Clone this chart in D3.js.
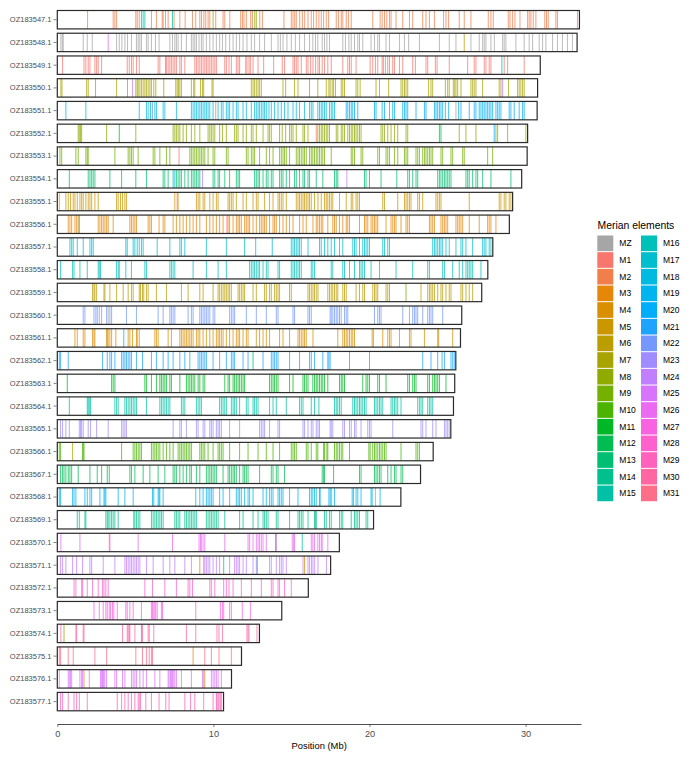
<!DOCTYPE html>
<html>
<head>
<meta charset="utf-8">
<script src="https://cdn.jsdelivr.net/npm/d3@7"></script>
<style>
  html, body { margin: 0; padding: 0; background: #fff; }
  svg { display: block; font-family: "Liberation Sans", Arial, Helvetica, sans-serif; }
</style>
</head>
<body>
<svg id="chart" width="689" height="760"></svg>
<script>
// ---------------- DATA ----------------
const chromosomes = ["OZ183547.1","OZ183548.1","OZ183549.1","OZ183550.1","OZ183551.1","OZ183552.1","OZ183553.1","OZ183554.1","OZ183555.1","OZ183556.1","OZ183557.1","OZ183558.1","OZ183559.1","OZ183560.1","OZ183561.1","OZ183562.1","OZ183563.1","OZ183564.1","OZ183565.1","OZ183566.1","OZ183567.1","OZ183568.1","OZ183569.1","OZ183570.1","OZ183571.1","OZ183572.1","OZ183573.1","OZ183574.1","OZ183575.1","OZ183576.1","OZ183577.1"];

const chromLengths = [33.45,33.3,30.94,30.77,30.74,30.13,30.1,29.75,29.17,28.96,27.9,27.58,27.19,25.91,25.83,25.53,25.46,25.38,25.21,24.08,23.27,22.01,20.26,18.07,17.51,16.08,14.38,12.95,11.8,11.16,10.65];

const chromElement = ["M2","MZ","M1","M7","M18","M8","M9","M13","M5","M3","M17","M16","M6","M22","M4","M21","M11","M15","M23","M10","M12","M19","M14","M26","M24","M28","M27","M30","M31","M25","M29"];

const elements = ["MZ","M1","M2","M3","M4","M5","M6","M7","M8","M9","M10","M11","M12","M13","M14","M15","M16","M17","M18","M19","M20","M21","M22","M23","M24","M25","M26","M27","M28","M29","M30","M31"];

const xTicks = [0, 10, 20, 30];

// gene positions (Mb) of the chromosome's main Merian element
const positions = [
[1.94,3.58,3.69,3.8,5.03,5.12,5.25,6.03,6.35,6.72,6.78,6.93,7.1,7.48,7.85,8.19,8.66,8.87,9.13,9.24,9.39,9.51,9.66,9.77,10.15,10.62,10.73,11.05,11.75,11.86,11.96,12.11,12.39,12.5,12.97,13.14,14.52,14.99,15.1,15.21,15.31,15.53,15.7,15.85,16.06,16.27,16.42,16.59,16.76,16.91,17.06,17.23,17.38,17.87,18.01,18.19,18.29,18.51,18.65,18.83,20.21,20.68,20.81,20.96,21.11,21.28,21.38,21.7,22.13,22.56,22.77,23.41,23.62,23.84,24.16,24.75,24.9,25.07,25.75,26.07,26.5,27.61,27.78,27.93,28.89,29.0,29.17,29.32,29.64,30.13,30.23,30.34,30.49,30.66,31.23,31.34,31.45,31.94,32.04,33.32],
[0.23,0.32,0.38,1.66,1.92,2.24,3.8,3.97,4.14,4.33,4.5,4.75,5.07,5.18,5.29,5.39,5.71,5.82,6.03,6.29,6.52,7.21,7.38,7.53,7.63,7.74,7.95,8.27,8.59,8.7,8.81,8.91,9.08,9.23,9.34,9.55,9.77,9.98,10.19,10.4,10.58,10.79,11.04,11.26,11.47,11.68,11.9,12.15,12.43,12.64,12.96,13.28,13.71,14.14,14.29,14.46,14.71,14.99,15.25,15.52,15.84,16.16,16.37,16.54,16.69,16.97,17.12,17.27,17.44,18.29,18.46,18.68,18.83,19.04,19.25,19.36,19.57,20.1,20.32,20.53,20.64,21.06,21.28,21.92,22.24,22.51,23.2,24.48,25.11,25.54,26.5,27.03,27.25,27.35,27.46,27.78,28.0,28.53,28.63,28.74,29.38,29.91,30.23,30.45,30.87,31.09,31.3,31.73,32.04,32.36,32.68,33.0],
[0.34,1.71,1.83,1.98,2.09,2.41,2.52,2.62,2.84,4.48,4.61,4.75,4.86,5.07,5.25,6.46,6.57,6.93,6.99,7.1,7.21,7.31,7.42,7.53,7.63,7.85,7.95,8.17,8.81,8.91,9.02,9.13,9.23,9.34,9.45,9.55,9.66,9.77,9.87,9.98,10.09,10.19,10.73,10.83,11.0,11.15,11.47,11.58,11.68,12.07,12.15,12.28,12.37,12.54,12.86,13.22,13.86,14.41,14.56,15.1,15.2,15.31,15.42,15.63,15.95,16.06,16.23,16.38,16.55,16.7,16.8,16.97,17.12,17.33,17.55,18.29,18.61,18.72,18.83,19.14,20.04,20.21,20.38,20.53,20.81,20.89,21.02,21.17,21.28,21.49,21.6,21.92,22.13,22.77,22.94,23.62,23.73,24.22,24.33,25.11,26.29,26.71,26.82,27.35,27.46,27.67,27.78,28.63,28.85,29.91],
[0.23,0.3,1.88,1.98,2.45,3.8,4.5,5.03,5.12,5.18,5.29,5.39,5.5,5.61,5.71,5.82,5.93,6.03,6.18,6.31,6.82,7.59,7.68,7.76,7.85,7.95,8.59,8.74,8.81,9.17,9.3,9.38,9.91,9.98,12.43,12.54,12.64,12.75,12.86,12.96,13.07,14.46,14.63,15.2,15.42,16.16,16.69,17.23,17.4,17.48,17.61,17.7,17.82,18.19,18.29,18.4,19.14,19.25,19.4,20.42,20.64,21.23,22.02,22.13,22.24,22.34,22.45,23.79,23.94,24.05,24.86,25.01,25.11,25.37,25.46,25.54,25.65,25.86,26.5,26.61,26.71,26.82,27.25,28.31,28.42,28.91,29.49,29.59,29.7,29.81,29.91],
[0.55,1.83,5.25,5.71,5.82,5.97,6.25,6.35,6.78,6.89,7.63,8.59,8.7,8.81,8.91,9.02,9.13,9.23,9.34,9.45,9.55,9.66,9.77,9.98,10.3,10.51,10.62,10.83,10.94,11.04,11.26,11.47,11.58,11.9,12.11,12.43,12.64,12.75,12.86,12.96,13.07,13.18,13.28,13.39,13.56,13.71,13.92,14.14,14.35,14.56,14.78,15.1,15.31,15.52,15.84,16.16,16.38,16.69,16.8,16.91,17.01,17.12,17.23,17.44,17.55,17.65,17.76],
[1.34,1.41,1.49,1.56,3.16,5.03,7.42,7.53,7.63,7.74,7.85,8.06,8.27,8.59,8.81,9.13,9.66,9.77,9.87,9.98,10.09,10.4,10.58,10.83,11.36,11.47,11.58,11.9,12.11,12.43,12.54,12.75,13.18,13.5,13.6,13.71,14.24,14.41,14.63,14.88,14.99,15.1,15.31,15.74,15.84,16.06,16.69,16.8,16.91,17.01,17.12,17.23,17.33,17.44,17.87,17.97,18.19,18.29,18.4,18.61,18.72,18.83,18.93,19.04,19.14,19.25,19.36,19.46,20.74,20.85,20.96,21.17,21.38,21.6,21.81,22.34,22.45,25.75,26.18,26.82,28.1,28.21,28.85,30.02],
[0.17,0.28,1.19,1.34,1.83,1.92,1.98,3.69,4.54,4.65,4.75,4.86,5.18,6.14,6.25,6.57,6.99,7.21,8.49,8.59,8.7,8.81,8.91,9.02,9.13,9.23,9.34,9.45,9.66,9.98,10.09,10.83,10.94,12.11,12.22,12.43,12.54,12.64,12.96,13.39,13.6,13.82,14.24,14.35,14.46,14.56,14.67,14.88,15.31,15.42,15.52,15.63,15.74,15.84,15.95,16.16,16.27,16.37,16.48,16.59,16.69,16.8,16.91,17.01,17.12,17.55,18.83,18.93,19.04,19.46,19.57,20.53,20.64,21.06,21.17,21.28,21.6,21.81,22.24,22.34,22.45,22.98,23.09,23.2,23.41,23.52,23.62,23.73,23.84,23.94,24.05,24.58,24.69,25.22,25.33,25.97,26.07,27.57,27.89],
[0.77,1.98,2.09,2.2,2.3,2.41,3.37,4.12,5.03,5.71,6.78,6.89,7.1,7.42,7.63,7.74,7.85,7.95,8.17,8.38,8.59,8.7,8.81,8.91,9.02,9.13,9.98,10.09,10.3,10.4,10.73,11.04,11.47,11.58,11.68,12.64,12.75,12.86,12.96,13.18,13.39,13.5,13.71,13.82,14.24,14.35,14.46,14.67,14.88,15.2,15.31,15.52,15.74,15.84,16.06,16.16,16.59,17.01,17.76,17.87,17.97,19.68,19.78,20.0,20.74,21.75,22.45,22.56,22.77,22.98,23.09,24.37,24.48,24.58,24.69,24.8,24.9,25.01,25.11,25.22,26.18,26.29,26.39,26.61,26.82,26.93,27.25,27.78,29.06],
[0.13,0.55,0.7,0.85,1.02,1.13,1.28,1.45,1.56,1.66,1.83,1.98,2.09,2.2,2.41,2.62,3.8,3.9,4.05,4.18,4.33,4.43,7.53,7.74,8.91,9.02,9.13,9.34,9.45,9.77,9.98,10.19,10.3,10.94,11.04,11.15,11.26,11.47,11.9,12.11,12.54,12.75,12.86,13.28,13.6,13.82,14.14,14.24,14.35,14.46,14.67,15.31,15.42,15.52,15.63,15.74,15.84,15.95,16.06,16.16,16.27,16.48,16.7,16.91,17.12,17.23,17.33,17.44,17.55,17.65,18.08,18.51,18.83,18.93,19.14,19.25,19.36,20.85,20.96,21.81,22.24,22.34,22.45,22.56,22.66,23.09,23.2,23.41,24.26,24.37,24.48,24.58,26.39,28.31,28.42,28.63,28.74,28.95,29.06],
[0.7,0.81,0.92,1.13,1.24,1.34,2.62,2.73,2.84,2.94,3.05,3.16,3.26,3.58,4.65,4.75,4.86,4.97,5.07,5.82,5.93,6.03,6.52,6.78,6.89,7.42,7.63,7.85,8.06,8.27,8.49,8.7,8.91,9.13,9.55,9.77,9.98,10.19,10.4,10.62,10.94,11.04,11.26,11.47,11.58,11.68,11.79,12.0,12.11,12.22,12.32,12.54,12.75,12.96,13.07,13.18,13.28,13.39,13.6,13.82,13.92,14.03,14.24,14.46,14.67,14.88,15.1,15.52,15.74,15.95,16.38,16.59,16.69,16.8,16.91,17.01,17.33,17.65,17.76,17.87,18.08,18.29,18.51,18.61,18.72,19.36,19.68,19.78,19.89,20.1,20.21,20.32,20.42,20.53,21.06,21.38,21.49,21.6,21.7,22.02,22.34,22.45,22.56,23.84,23.94,24.05,24.16,24.58,24.69,24.8,24.9,25.01,25.54,25.65,25.75,25.86,25.97,26.39,27.03,27.57,27.67,27.78,28.1],
[0.81,0.92,1.02,1.28,1.66,2.09,2.2,2.3,4.39,4.48,4.86,4.97,5.12,5.25,5.39,5.5,6.4,7.21,7.85,7.95,8.17,9.55,10.83,12.0,12.71,13.77,14.99,15.1,15.2,15.31,15.42,15.52,15.63,16.06,16.8,16.91,17.12,17.33,17.55,17.76,18.08,18.29,18.93,19.04,19.14,19.36,19.57,19.68,19.78,19.89,20.0,20.85,20.96,21.17,21.28,24.05,24.16,24.26,24.37,24.48,24.58,24.69,24.9,25.11,25.54,25.86,25.97,26.18,26.61,27.25,27.35,27.46,27.67,27.78],
[0.21,0.98,1.07,1.45,1.92,2.62,2.69,2.77,3.8,3.9,3.97,4.39,4.75,5.61,5.71,7.21,7.31,7.42,7.53,8.7,9.55,10.3,10.83,12.32,12.43,12.54,12.64,12.75,12.86,12.96,13.18,13.39,13.5,14.14,14.24,14.99,15.1,15.2,15.31,15.42,15.52,15.63,16.27,16.37,16.48,17.55,17.65,18.29,18.4,18.72,19.04,19.36,19.46,19.57,19.68,20.1,20.64,21.7,22.77,23.73,23.84,24.69,24.8,25.33,25.75,25.97,26.18,26.29,26.39,26.5,26.61,27.14],
[2.26,2.35,2.41,2.52,2.99,3.05,3.37,3.8,4.22,4.54,4.75,4.86,5.25,5.33,5.46,5.54,5.71,5.82,6.35,6.99,7.95,8.38,9.13,9.34,9.98,10.3,10.4,10.51,10.62,10.73,10.83,10.94,11.04,11.15,11.58,11.68,11.79,11.9,12.0,12.54,12.75,13.28,13.39,13.6,13.71,13.92,14.03,14.14,14.24,14.88,14.99,16.06,16.16,16.27,16.38,16.48,16.59,16.7,17.33,17.44,17.55,17.65,17.76,17.87,17.97,18.29,18.4,18.51,19.14,19.36,19.57,19.68,20.21,20.32,20.42,20.53,21.06,21.17,21.28,23.3,23.73,23.84,23.94,24.05,24.16,24.37,24.58,24.69,24.9,25.11,25.22,25.86,25.97,26.18,26.39,26.61],
[1.66,1.77,2.35,2.47,2.56,2.69,2.84,3.16,3.37,3.48,4.43,5.07,6.46,6.78,7.21,7.31,7.42,7.53,8.38,8.59,8.7,9.13,9.23,9.34,9.45,9.55,9.66,9.77,9.98,10.09,11.04,11.15,11.26,11.36,12.11,12.75,13.39,14.03,14.14,15.1,15.2,16.06,16.16,16.27,17.48,17.55,17.65,17.76,17.87,17.97,18.19,18.4,18.51,18.61,20.32,20.53,20.64,20.74,22.13,22.56,22.77,22.88,22.98,23.09,23.41,23.73,23.84,23.94,24.05,24.69],
[1.13,1.28,1.66,1.77,2.26,2.35,2.41,3.16,3.2,3.26,3.37,3.48,3.75,4.54,4.65,4.82,5.07,5.12,5.25,6.25,6.35,6.46,7.1,7.31,7.85,7.95,8.06,8.17,8.27,8.38,8.49,8.59,8.7,8.91,9.02,9.13,9.34,9.55,9.77,9.98,10.19,10.3,10.4,10.51,10.62,10.83,11.04,11.26,11.47,11.58,11.68,11.9,12.11,12.22,12.75,12.96,13.18,13.39,13.6,14.24,14.46,14.88,15.42,15.52,15.63,15.74,15.84,15.95,16.38,17.97,18.29,18.4,18.51,18.61,18.72,18.83,18.93,19.04,20.17,20.25,20.85,21.17,21.28,21.38,21.92,22.56,22.66,23.52,24.37,24.43,25.33],
[0.13,0.21,0.7,2.9,3.2,3.37,3.48,3.69,4.12,4.22,4.33,4.43,4.54,4.65,4.75,5.07,5.46,6.03,6.35,6.78,7.1,7.42,7.85,8.17,8.49,9.02,9.13,9.23,9.34,9.45,9.55,9.98,10.4,10.83,11.15,11.26,11.36,11.9,12.22,13.18,13.71,13.82,13.92,14.03,14.14,14.88,15.52,16.16,16.27,16.48,17.01,17.33,17.4,17.48,18.72,20.0,23.41,23.94,24.37,24.65,24.8,25.22,25.33,25.43],
[0.64,3.48,3.58,3.69,5.61,5.71,6.03,6.35,6.57,6.67,6.78,6.89,6.99,7.21,7.31,7.85,8.27,8.38,8.49,8.59,8.7,8.81,9.02,9.13,9.34,9.45,10.73,10.94,11.04,11.26,11.36,11.47,11.58,11.68,11.79,11.9,12.0,13.6,13.71,13.82,13.92,14.03,14.14,14.88,15.1,15.74,15.84,15.95,16.06,16.37,16.48,16.59,16.69,16.8,16.91,17.01,17.12,17.33,18.08,18.19,18.29,18.4,19.57,19.78,19.89,20.0,20.53,20.64,21.06,22.45,22.56,22.77,22.88,22.98,23.73,23.84,24.05,24.16,24.26,24.37,24.48,24.9],
[0.77,1.92,1.98,2.05,2.13,3.69,3.8,3.9,4.33,4.43,4.54,4.65,4.75,4.86,4.97,5.07,5.71,6.57,6.67,6.78,6.89,6.99,7.1,7.21,7.95,8.06,8.17,8.91,9.02,9.13,9.23,10.4,10.51,10.62,10.73,10.83,11.15,11.26,11.36,11.47,11.68,12.11,12.22,12.54,12.64,12.75,12.86,13.6,13.82,14.03,14.67,15.52,15.63,15.74,16.27,16.48,16.76,17.76,17.87,17.97,18.08,18.19,18.93,19.04,19.14,19.25,19.36,19.46,19.57,19.68,19.78,20.32,20.42,20.53,20.64,20.74,20.85,21.38,21.49,21.6,21.7,21.81,22.02,23.09,23.3,23.41,23.73,23.84,23.94,24.05],
[0.21,0.34,0.55,0.77,1.41,1.49,1.56,1.66,1.98,2.13,2.52,3.26,4.12,4.22,4.33,4.43,7.42,7.85,7.95,8.27,8.91,9.02,9.34,9.45,9.77,9.87,9.98,10.19,10.3,10.4,10.51,11.04,11.68,12.96,13.07,13.18,13.28,13.6,14.14,14.24,15.74,15.84,16.06,16.27,16.38,16.59,16.7,16.8,17.48,17.55,17.65,18.29,18.4,18.72,18.83,19.04,19.14,19.46,19.89,20.0,20.1,21.49,23.3,23.41,23.62,24.05,24.26,24.8,24.9,25.01,25.11],
[0.13,0.21,1.62,1.66,1.71,4.12,4.86,4.97,5.07,5.18,5.29,5.39,6.03,6.14,6.25,6.35,6.46,6.57,6.78,6.99,7.21,7.42,7.74,7.85,7.95,8.06,8.17,8.27,8.38,8.49,8.59,9.13,9.23,9.34,9.45,9.66,9.98,10.3,10.4,10.51,10.62,11.04,11.68,12.22,12.86,13.39,13.82,14.24,14.99,15.1,15.2,15.31,15.95,16.06,16.27,16.59,16.69,17.06,17.12,17.27,17.33,17.76,17.87,17.97,18.08,18.19,18.29,18.72,19.96,20.04,20.21,20.32,20.42,20.53,20.64,20.74,20.85,20.96,21.06,22.02,22.98,23.09,23.2],
[0.21,0.34,0.43,0.55,0.7,0.81,0.92,1.34,2.09,2.56,2.84,3.2,3.33,4.65,4.75,4.97,5.5,5.93,6.46,6.89,7.42,7.53,7.63,7.85,8.06,8.27,8.49,8.59,8.91,9.13,9.55,9.66,9.77,9.87,9.98,10.09,10.19,10.62,10.94,11.04,11.15,11.26,11.36,11.47,11.68,11.9,12.0,12.11,12.22,12.96,13.71,13.82,14.03,14.14,14.56,16.97,17.06,17.12,17.7,19.36,19.46,20.32,20.42,20.53,20.64,20.74,21.17,21.38,21.6,21.7,22.02,22.13],
[0.13,0.21,0.98,1.07,1.19,1.77,1.92,2.09,2.2,2.73,2.99,3.05,3.11,3.9,4.33,4.86,6.1,6.18,6.46,6.52,6.57,6.78,8.87,9.13,9.34,9.55,9.66,9.77,9.87,9.98,10.4,10.62,11.04,11.47,11.58,11.68,11.79,12.0,12.22,12.32,12.54,13.18,13.39,13.6,13.71,13.82,14.14,14.24,14.35,14.46,14.88,15.42,16.16,16.27,16.37,16.48,16.59,16.8,16.84,17.4,17.48,17.55,17.76,18.89,18.97,19.14,19.25,19.46,20.1,20.17,20.68],
[1.28,1.41,1.77,1.83,3.11,3.2,3.26,3.37,3.48,3.58,3.69,3.9,4.9,4.97,5.07,5.18,5.29,6.03,6.14,6.25,6.35,6.46,6.57,6.67,6.78,7.53,7.63,7.74,7.85,8.17,8.27,8.38,8.49,8.59,8.7,8.81,8.91,9.55,9.66,9.77,9.87,9.98,10.09,10.19,10.3,10.73,11.68,11.9,12.54,12.86,13.18,13.28,13.39,13.5,14.03,14.14,14.88,15.42,15.52,15.63,15.74,16.06,16.48,16.55,16.59,17.12,17.23,17.44,17.55,18.08,18.19,18.29,18.83,19.04,19.14,19.25,19.36,19.78,19.89],
[0.23,1.45,3.37,5.18,7.38,9.08,9.17,9.23,9.34,9.45,10.73,12.22,12.32,12.54,12.75,12.86,12.96,13.07,13.18,13.39,14.03,15.05,15.14,15.2,16.27,16.37,16.48,16.69,16.8,16.91,16.97,17.33],
[0.21,0.34,0.55,0.98,1.24,1.62,2.09,2.2,2.94,3.69,4.33,4.43,4.54,4.65,4.75,4.86,4.97,5.07,5.18,5.29,5.71,6.14,6.78,7.21,7.53,8.17,8.59,9.38,9.45,9.55,9.66,9.77,9.98,10.19,10.4,11.04,11.36,11.47,11.58,11.68,11.9,12.11,12.54,12.75,13.6,13.71,14.03,14.24,14.35,14.46,14.67,15.74,16.06,16.16,16.28,16.38,16.49,16.7,17.24],
[1.07,1.19,1.56,1.62,1.92,2.26,2.62,2.9,2.99,3.11,3.26,5.61,6.1,6.89,7.63,8.38,8.49,8.66,9.77,9.87,10.09,10.66,10.83,11.0,11.26,11.79,12.43,13.07,13.71,13.82,14.14,14.24,14.56,14.99],
[2.35,2.69,2.94,3.11,3.2,3.33,3.41,3.54,3.62,3.84,4.39,4.48,4.65,4.86,5.39,6.03,6.1,6.18,6.25,6.31,6.4,6.67,6.74,8.87,10.45,10.58,10.66,11.04,11.15,11.85,12.37],
[0.23,1.19,1.24,1.66,1.71,4.18,4.48,4.54,4.61,4.65,4.97,5.46,5.82,5.89,6.18,8.27,8.87,10.23,10.36,10.58,12.15,12.22,12.28,12.79],
[0.13,0.21,0.7,1.02,2.41,3.16,5.03,5.46,5.71,5.89,6.03,6.1,9.45,9.87,10.36,11.15],
[0.13,0.7,0.77,0.85,0.92,1.45,1.56,1.62,2.05,2.77,2.84,2.9,2.94,2.99,3.05,3.16,3.69,3.8,4.18,4.33,4.75,4.86,4.97,5.07,5.29,5.5,5.71,6.25,6.57,7.1,7.16,7.25,7.31,7.38,7.46,7.53,7.63,7.95,8.59,9.3,9.38,9.87,9.98,10.09,10.19,10.3,10.51],
[0.21,0.34,0.7,1.07,1.24,1.41,1.92,3.84,4.12,4.33,4.54,4.75,4.97,5.18,5.25,5.33,5.67,6.03,6.52,6.95,7.16,8.17,8.53,8.81,9.38,9.98,10.19,10.23,10.3,10.36,10.45,10.51]
];

// second element fused into OZ183551.1
const fusionChrom = "OZ183551.1";
const fusionElement = "M20";
const fusionPositions = [18.51,18.61,18.72,18.83,18.93,19.04,19.25,20.32,20.42,20.81,20.96,21.28,21.49,21.6,22.13,22.24,22.34,22.45,22.98,23.52,23.62,24.16,24.26,24.37,24.48,24.58,24.69,24.86,25.07,25.71,25.86,26.39,26.71,26.82,27.03,27.14,27.25,27.35,27.46,27.57,27.67,27.78,27.89,28.1,28.21,28.31,28.42,28.95,29.06,29.27,29.59,29.81,29.91];

// isolated genes from other elements: [chromosome index, position (Mb), element]
const otherGenes = [
[0,5.39,"M15"],[0,5.5,"M15"],[0,5.61,"M15"],[0,7.38,"M15"],[0,9.98,"M8"],[0,12.65,"M8"],[0,12.75,"M8"],
[1,3.26,"M26"],[1,26.07,"M5"],
[2,28.48,"M16"],
[3,4.82,"M24"],[3,28.53,"M24"],
[4,6.1,"M22"],[4,10.15,"M2"],[4,16.27,"M16"],[4,25.54,"MZ"],
[5,3.97,"M11"],[5,16.59,"M2"],[5,24.48,"M12"],[5,24.58,"M12"],[5,27.99,"M20"],
[6,7.8,"M1"],
[7,7.53,"M19"],[7,9.3,"M24"],[7,18.55,"M24"],
[8,7.68,"M1"],
[9,1.41,"M14"],[9,10.87,"M31"],
[12,22.34,"M9"],
[13,3.26,"MZ"],[13,18.08,"M7"],
[14,4.26,"M16"],
[15,12.54,"M13"],
[17,23.2,"M7"],
[19,0.98,"M7"],
[21,20.38,"MZ"],
[23,3.33,"M1"],[23,13.99,"M12"],[23,15.69,"M15"],
[24,9.13,"M3"],[24,15.84,"M3"],[24,10.66,"M15"],[24,12.81,"M14"],
[27,0.43,"M8"],[27,5.39,"M15"],
[28,8.7,"M3"],
[29,1.71,"M4"],[29,9.45,"M4"]
];

// ---------------- COLOURS (ggplot2 hue palette, polarLUV l=65 c=100) ----------------
function hclLuv(h, c, l) {
  const hr = h * Math.PI / 180;
  const U = c * Math.cos(hr), V = c * Math.sin(hr);
  const Xn = 95.047, Yn = 100, Zn = 108.883;
  const den = Xn + 15 * Yn + 3 * Zn;
  const un = 4 * Xn / den, vn = 9 * Yn / den;
  const Y = l > 8 ? Yn * Math.pow((l + 16) / 116, 3) : Yn * l / 903.3;
  const up = U / (13 * l) + un, vp = V / (13 * l) + vn;
  const X = 9 * Y * up / (4 * vp);
  const Z = -X / 3 - 5 * Y + 3 * Y / vp;
  const x = X / 100, y = Y / 100, z = Z / 100;
  let r = 3.240479 * x - 1.537150 * y - 0.498535 * z;
  let g = -0.969256 * x + 1.875992 * y + 0.041556 * z;
  let b = 0.055648 * x - 0.204043 * y + 1.057311 * z;
  const gam = v => v <= 0.0031308 ? 12.92 * v : 1.055 * Math.pow(v, 1 / 2.4) - 0.055;
  const cl = v => Math.max(0, Math.min(255, Math.round(gam(v) * 255)));
  return d3.rgb(cl(r), cl(g), cl(b)).formatHex();
}
const nM = elements.length - 1;
const colorOf = d3.scaleOrdinal()
  .domain(elements)
  .range(elements.map((e, i) => e === "MZ" ? "#A6A6A6" : hclLuv(15 + (i - 1) * 360 / nM, 100, 65)));

// ---------------- LAYOUT ----------------
const svg = d3.select("#chart");
const x = d3.scaleLinear().domain([0, 33.55]).range([57.3, 581]);
const y = d3.scaleBand().domain(chromosomes).range([10.5, 710.8]).paddingInner(0.19).paddingOuter(0);
const bw = y.bandwidth();

// genes list
const genes = [];
chromosomes.forEach((c, i) => positions[i].forEach(p => genes.push({c, p, e: chromElement[i]})));
fusionPositions.forEach(p => genes.push({c: fusionChrom, p, e: fusionElement}));
otherGenes.forEach(([i, p, e]) => genes.push({c: chromosomes[i], p, e}));

const chromData = chromosomes.map((c, i) => ({c, len: chromLengths[i]}));

// chromosome background
svg.append("g").selectAll("rect").data(chromData).join("rect")
  .attr("x", x(0)).attr("y", d => y(d.c))
  .attr("width", d => x(d.len) - x(0)).attr("height", bw)
  .attr("fill", "#fff");

// gene lines
svg.append("g").selectAll("line").data(genes).join("line")
  .attr("x1", d => x(d.p)).attr("x2", d => x(d.p))
  .attr("y1", d => y(d.c)).attr("y2", d => y(d.c) + bw)
  .attr("stroke", d => colorOf(d.e)).attr("stroke-width", 1)
  .attr("stroke-opacity", 0.75);

// chromosome outlines
svg.append("g").selectAll("rect").data(chromData).join("rect")
  .attr("x", x(0)).attr("y", d => y(d.c))
  .attr("width", d => x(d.len) - x(0)).attr("height", bw)
  .attr("fill", "none").attr("stroke", "#2a2a2a").attr("stroke-width", 1.2);

// y axis
const yAxis = svg.append("g").attr("transform", "translate(56.5,0)")
  .call(d3.axisLeft(y).tickSize(3).tickPadding(2));
yAxis.select(".domain").remove();
yAxis.selectAll(".tick line").attr("stroke", "#333").attr("stroke-width", 0.6);
yAxis.selectAll(".tick text").attr("font-size", 7.5).attr("fill", "#4D4D4D")
  .attr("font-family", "'Liberation Sans', Arial, sans-serif");

// x axis
const xAxis = svg.append("g").attr("transform", "translate(0,724)")
  .call(d3.axisBottom(x).tickValues(xTicks).tickSize(3).tickSizeOuter(0).tickPadding(3));
xAxis.select(".domain").attr("stroke", "#222").attr("stroke-width", 0.8);
xAxis.selectAll(".tick line").attr("stroke", "#333").attr("stroke-width", 0.6);
xAxis.selectAll(".tick text").attr("font-size", 9.2).attr("fill", "#4D4D4D")
  .attr("font-family", "'Liberation Sans', Arial, sans-serif");

svg.append("text").attr("x", (x.range()[0] + x.range()[1]) / 2).attr("y", 748.5)
  .attr("text-anchor", "middle").attr("font-size", 9.4).attr("fill", "#000")
  .text("Position (Mb)");

// legend
const legend = svg.append("g");
legend.append("text").attr("x", 597.5).attr("y", 228.5).attr("font-size", 10.4)
  .attr("fill", "#000").text("Merian elements");
const keyH = 16.67, perCol = 16;
const items = legend.selectAll("g.item").data(elements).join("g").attr("class", "item")
  .attr("transform", (d, i) => `translate(${597.3 + Math.floor(i / perCol) * 43.7},${235 + (i % perCol) * keyH})`);
items.append("rect").attr("x", 0).attr("y", 0.5).attr("width", 16).attr("height", keyH - 1)
  .attr("fill", d => colorOf(d));
items.append("text").attr("x", 22).attr("y", keyH / 2).attr("dy", "0.35em")
  .attr("font-size", 8.5).attr("fill", "#000").text(d => d);
</script>
</body>
</html>
